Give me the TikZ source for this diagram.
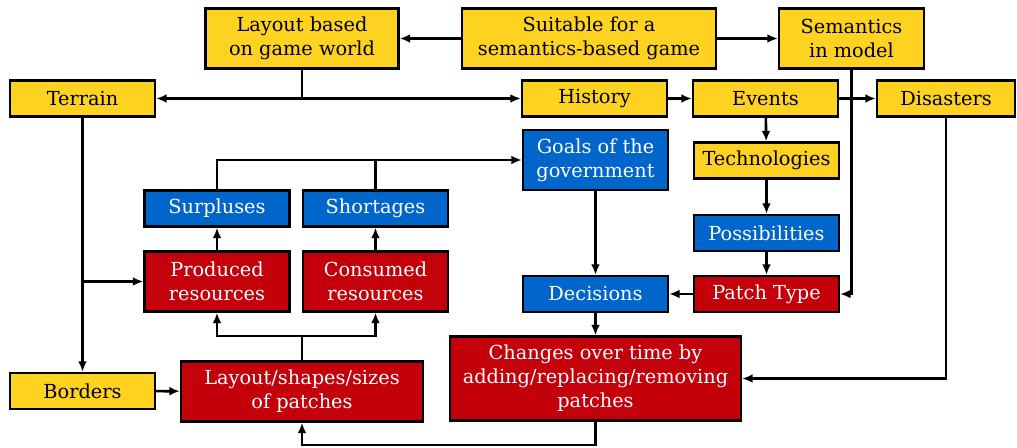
\documentclass[tikz,border=0pt]{standalone}
\usepackage{fontspec}
\setmainfont{DejaVu Serif}
\usetikzlibrary{positioning, arrows.meta, calc}

\definecolor{boxyellow}{RGB}{253,210,32}
\definecolor{boxblue}{RGB}{0,102,204}
\definecolor{boxred}{RGB}{196,0,11}

\begin{document}
\begin{tikzpicture}[x=0.02cm, y=-0.02cm,
        every node/.style={draw=black, line width=1.3pt, align=center, inner sep=2pt,
            font=\fontsize{11}{13.6}\selectfont, minimum height=0.72cm},
        ybox/.style={fill=boxyellow, text=black},
        bbox/.style={fill=boxblue, text=white},
        rbox/.style={fill=boxred, text=white},
        wide/.style={minimum width=2.9cm},
        arr/.style={-{Latex[length=6pt, width=5pt]}, line width=1.5pt},
        ln/.style={line width=1.5pt}]
            \useasboundingbox (0,0) rectangle (1017,448);

            % top row
            \node (layout) at (302, 38.5) [ybox, minimum width=3.86cm, minimum height=1.2cm] {Layout based\\on game world};
            \node (suitable) at (589, 38.5) [ybox, minimum width=5.08cm, minimum height=1.2cm] {Suitable for a\\semantics-based game};
            \node (semantics) at (851.5, 38.5) [ybox, wide, minimum height=1.2cm] {Semantics\\in model};

            % second row
            \node (terrain) at (82.5, 98.5) [ybox, wide] {Terrain};
            \node (history) at (594.5, 98.5) [ybox, wide] {History};
            \node (events) at (765.5, 98.5) [ybox, wide] {Events};
            \node (disasters) at (946, 98.5) [ybox, minimum width=2.76cm] {Disasters};

            \node (goals) at (595.5, 160) [bbox, wide, minimum height=1.2cm] {Goals of the\\government};
            \node (technologies) at (766.5, 160.5) [ybox, wide] {Technologies};
            \node (possibilities) at (766.5, 233) [bbox, wide] {Possibilities};
            \node (decisions) at (595.5, 294) [bbox, wide] {Decisions};
            \node (patchtype) at (766.5, 294) [rbox, wide] {Patch Type};

            \node (surpluses) at (217, 208.5) [bbox, wide] {Surpluses};
            \node (shortages) at (375.5, 208.5) [bbox, wide] {Shortages};
            \node (produced) at (217, 281.5) [rbox, wide, minimum height=1.2cm] {Produced\\resources};
            \node (consumed) at (375.5, 281.5) [rbox, wide, minimum height=1.2cm] {Consumed\\resources};

            \node (borders) at (82.5, 391) [ybox, wide] {Borders};
            \node (shapes) at (302, 391.5) [rbox, minimum width=4.84cm, minimum height=1.2cm] {Layout/shapes/sizes\\of patches};
            \node (changes) at (595.5, 378.5) [rbox, minimum width=5.82cm, minimum height=1.68cm] {Changes over time by\\adding/replacing/removing\\patches};

            % connectors
            \draw[arr] (suitable) -- (layout);
            \draw[arr] (suitable) -- (semantics);
            \draw[arr] (layout.south) |- (terrain.east);
            \draw[arr] (layout.south) |- (history.west);
            \draw[arr] (history) -- (events);
            \draw[arr] (events) -- (disasters);
            \draw[arr] (semantics.south) |- (patchtype.east);
            \draw[arr] (events) -- (technologies);
            \draw[arr] (technologies) -- (possibilities);
            \draw[arr] (possibilities) -- (patchtype);
            \draw[arr] (patchtype) -- (decisions);
            \draw[arr] (goals) -- (decisions);
            \draw[arr] (decisions) -- (changes);
            \draw[arr] (disasters.south) |- (changes.east);

            \coordinate (loop) at (changes.south |- 0,445);
            \draw[arr] (changes.south) -- (loop) -| (shapes.south);

            \coordinate (split) at (shapes.north |- 0,336);
            \draw[ln] (shapes.north) -- (split);
            \draw[arr] (split) -| (produced.south);
            \draw[arr] (split) -| (consumed.south);

            \draw[arr] (produced) -- (surpluses);
            \draw[arr] (consumed) -- (shortages);
            \draw[arr] (surpluses.north) |- (goals.west);
            \draw[ln] (shortages.north) -- (shortages.north |- goals.west);

            \draw[arr] (terrain) -- (borders);
            \draw[arr] (terrain.south |- produced.west) -- (produced.west);
            \draw[arr] (borders) -- (shapes);

        \end{tikzpicture}
\end{document}
